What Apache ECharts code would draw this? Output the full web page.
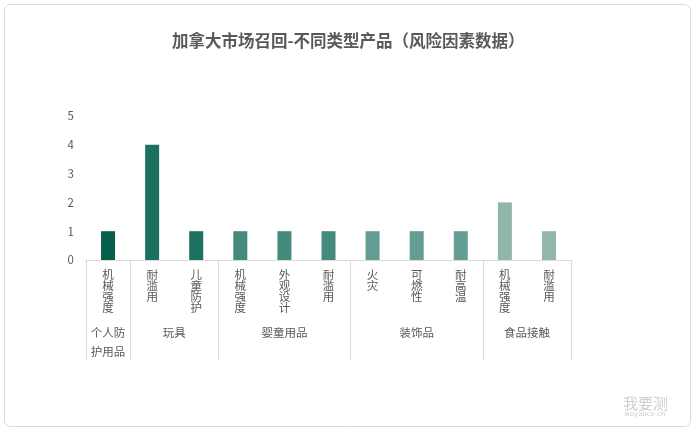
<!DOCTYPE html>
<html>
<head>
<meta charset="utf-8">
<script src="https://cdn.jsdelivr.net/npm/echarts@6/dist/echarts.min.js"></script>
<style>
  html, body { margin: 0; padding: 0; background: #fff; }
  #main { width: 695px; height: 433px; }
</style>
</head>
<body>
<div id="main"></div>
<script>
// data
var categories = ['机械强度', '耐滥用', '儿童防护', '机械强度', '外观设计', '耐滥用', '火灾', '可燃性', '耐高温', '机械强度', '耐滥用'];
var values = [1, 4, 1, 1, 1, 1, 1, 1, 1, 2, 1];
var groupNames = ['个人防护用品', '玩具', '婴童用品', '装饰品', '食品接触'];
var groupSizes = [1, 2, 3, 3, 2];
var yTicks = [0, 1, 2, 3, 4, 5];

var groupColors = ['#085f4c', '#1c7060', '#448a7d', '#639d93', '#91b6ac'];

var chartDom = document.getElementById('main');
var myChart = echarts.init(chartDom);
var option;

var font = '"Noto Sans CJK SC", "Microsoft YaHei", sans-serif';

// group boundaries / centres in category units
var bounds = [0], centres = [];
var barData = [];
var pos = 0;
for (var g = 0; g < groupSizes.length; g++) {
    centres.push(pos + groupSizes[g] / 2);
    for (var k = 0; k < groupSizes[g]; k++) {
        barData.push({ value: values[pos + k], itemStyle: { color: groupColors[g] } });
    }
    pos += groupSizes[g];
    bounds.push(pos);
}

option = {
    backgroundColor: '#fff',
    animation: false,
    title: {
        text: '加拿大市场召回-不同类型产品（风险因素数据）',
        left: 167,
        top: 27,
        textStyle: { fontFamily: font, fontSize: 16.5, fontWeight: 'bold', color: '#595959' }
    },
    graphic: [
        {
            type: 'rect',
            shape: { x: 4.5, y: 4.5, width: 686, height: 422, r: 6 },
            style: { fill: 'none', stroke: '#d9d9d9', lineWidth: 1 },
            silent: true
        },
        {
            type: 'text', left: 623, top: 396,
            style: { text: '我要测', fontFamily: font, fontSize: 15, fill: '#cfcfcf' }
        },
        {
            type: 'text', left: 624, top: 411,
            style: { text: 'woyaoce.cn', fontFamily: 'DejaVu Sans', fontSize: 7, fill: '#cfcfcf' }
        }
    ],
    grid: { left: 86, right: 124, top: 116, bottom: 173, containLabel: false },
    xAxis: [
        {
            type: 'category',
            data: categories,
            axisLine: { lineStyle: { color: '#d9d9d9' } },
            axisTick: { show: false },
            axisLabel: {
                interval: 0,
                margin: 9.5,
                fontFamily: font,
                fontSize: 11.5,
                lineHeight: 11,
                color: '#595959',
                formatter: function (v) { return v.split('').join('\n'); }
            }
        },
        {
            type: 'value',
            position: 'bottom',
            min: 0,
            max: categories.length,
            splitLine: { show: false },
            axisLine: { show: false },
            axisTick: {
                show: true,
                length: 100,
                customValues: bounds,
                lineStyle: { color: '#d9d9d9' }
            },
            axisLabel: {
                margin: 63,
                fontFamily: font,
                fontSize: 11.5,
                lineHeight: 19,
                color: '#595959',
                customValues: centres,
                formatter: function (v) {
                    for (var i = 0; i < centres.length; i++) {
                        if (Math.abs(centres[i] - v) < 1e-6) {
                            var n = groupNames[i];
                            if (n.length > 4) {
                                var h = Math.ceil(n.length / 2);
                                return n.slice(0, h) + '\n' + n.slice(h);
                            }
                            return n;
                        }
                    }
                    return '';
                }
            }
        }
    ],
    yAxis: {
        type: 'value',
        min: yTicks[0],
        max: yTicks[yTicks.length - 1],
        interval: 1,
        splitLine: { show: false },
        axisLine: { show: false },
        axisTick: { show: false },
        axisLabel: { margin: 12, fontFamily: font, fontSize: 11.5, color: '#595959' }
    },
    series: [{
        type: 'bar',
        xAxisIndex: 0,
        barWidth: 14,
        data: barData
    }]
};

option && myChart.setOption(option);
</script>
</body>
</html>
